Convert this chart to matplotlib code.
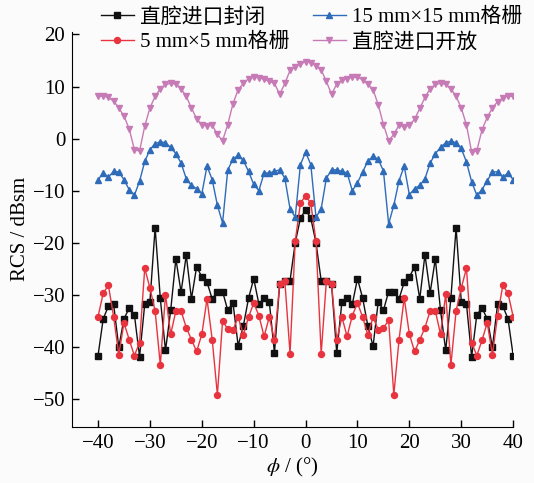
import numpy as np
import matplotlib
matplotlib.use('Agg')
import matplotlib.pyplot as plt

plt.rcParams['font.family'] = ['Liberation Serif', 'Noto Sans CJK SC']
plt.rcParams['mathtext.fontset'] = 'stix'
plt.rcParams['font.size'] = 15

# scan angle, degrees
phi = np.arange(-40, 41)

# RCS (dBsm) for each inlet configuration
closed = [-41.7, -34.6, -32.2, -31.8, -40.1, -34.6, -32.6, -33.8, -41.9, -31.8,
          -31.3, -17.1, -30.7, -40.7, -33.0, -23.1, -29.5, -22.4, -30.8, -24.6,
          -26.6, -27.6, -30.8, -29.4, -29.4, -33.0, -31.5, -39.8, -36.0, -30.7,
          -26.9, -31.8, -30.7, -31.3, -41.2, -28.0, -27.3, -27.3, -20.0, -15.3,
          -13.7,
          -15.3, -20.0, -27.3, -27.3, -28.0, -41.2, -31.3, -30.7, -31.8, -26.9,
          -30.7, -36.0, -39.9, -31.3, -33.0, -29.4, -29.4, -30.8, -27.6, -26.6,
          -24.6, -30.8, -22.3, -29.6, -23.1, -33.0, -40.7, -30.6, -17.1, -31.3,
          -31.8, -41.9, -33.8, -32.6, -34.6, -40.1, -31.8, -32.2, -34.6, -41.7]

grid5 = [-34.2, -29.7, -28.2, -34.2, -41.5, -35.4, -38.6, -41.7, -39.2, -24.9,
         -28.7, -33.1, -43.5, -30.0, -37.6, -33.1, -33.1, -36.3, -38.6, -40.9,
         -37.6, -30.8, -38.6, -49.2, -35.0, -36.6, -36.8, -34.3, -37.7, -34.3,
         -31.6, -34.0, -38.0, -34.3, -38.7, -27.9, -27.4, -41.3, -19.7, -12.4,
         -11.0,
         -12.4, -19.7, -41.3, -27.4, -27.9, -38.7, -34.3, -38.0, -34.0, -31.6,
         -34.3, -37.7, -34.3, -36.7, -36.4, -34.9, -49.2, -38.7, -30.6, -37.6,
         -40.9, -38.7, -36.3, -33.1, -33.1, -37.6, -29.9, -43.5, -33.1, -28.7,
         -24.9, -39.2, -41.7, -38.7, -35.4, -41.5, -34.0, -28.2, -29.7, -34.2]

grid15 = [-7.9, -6.6, -7.4, -6.3, -6.4, -7.9, -9.8, -10.9, -8.2, -4.4,
          -2.1, -1.0, -0.6, -0.8, -1.7, -2.9, -4.7, -7.7, -9.0, -9.6,
          -10.6, -5.3, -7.9, -12.8, -16.2, -6.0, -4.0, -3.2, -4.2, -6.3,
          -8.8, -10.0, -6.6, -6.6, -6.3, -6.0, -7.6, -13.5, -15.1, -5.0,
          -2.6,
          -5.0, -15.1, -13.5, -7.6, -6.0, -6.0, -6.3, -6.6, -10.0, -8.5,
          -6.4, -4.3, -3.4, -4.0, -6.2, -16.4, -12.8, -8.1, -5.3, -10.8,
          -9.6, -9.0, -7.7, -4.7, -2.9, -1.7, -0.8, -0.5, -0.8, -1.9,
          -4.5, -8.3, -10.9, -9.8, -8.1, -6.4, -6.4, -7.4, -6.6, -7.9]

opened = [8.1, 8.2, 7.9, 7.2, 5.9, 4.3, 1.9, -2.1, -2.4, 2.4,
          5.9, 8.1, 9.6, 10.4, 10.6, 10.5, 9.6, 8.1, 5.9, 3.8,
          2.7, 2.4, 2.6, 0.8, -0.4, 2.7, 6.7, 9.4, 10.6, 11.5,
          11.8, 11.7, 11.4, 11.0, 10.6, 8.5, 10.6, 13.1, 13.8, 14.4,
          14.7,
          14.6, 14.0, 13.2, 11.0, 8.5, 10.5, 11.2, 11.5, 11.8, 11.8,
          11.3, 10.5, 9.4, 6.5, 2.7, -0.4, 0.8, 2.6, 2.2, 2.6,
          3.7, 5.8, 7.9, 9.6, 10.4, 10.6, 10.4, 9.6, 8.1, 5.9,
          2.6, -2.6, -2.3, 1.7, 4.1, 5.9, 7.1, 7.8, 8.2, 8.1]

labels = ['直腔进口封闭', '5 mm×5 mm格栅', '15 mm×15 mm格栅', '直腔进口开放']

fig = plt.figure(figsize=(5.34, 4.83), dpi=100, facecolor='#fbfbfb')
ax = fig.add_axes([0.135, 0.116, 0.826, 0.818], facecolor='#fbfbfb')

ms = 4.3
ax.plot(phi, closed, '-s', color='#111111', lw=1.0, ms=ms, label=labels[0])
ax.plot(phi, grid5, '-o', color='#e8343f', lw=1.0, ms=ms, label=labels[1])
ax.plot(phi, grid15, '-^', color='#2e6bb8', lw=1.0, ms=ms, label=labels[2])
ax.plot(phi, opened, '-v', color='#c77bb6', lw=1.0, ms=ms, label=labels[3])

ax.set_xlim(-45, 40)
ax.set_ylim(-55.4, 20.5)
ax.set_xticks(np.arange(-40, 41, 10))
ax.set_yticks(np.arange(-50, 21, 10))
ax.spines['top'].set_visible(False)
ax.spines['right'].set_visible(False)
ax.tick_params(direction='in', length=5, width=1, pad=5)

ax.set_xlabel(r'$\phi$ / (°)', labelpad=2)
ax.set_ylabel('RCS / dBsm', labelpad=2)

fig.legend(loc='upper left', bbox_to_anchor=(0.165, 1.01), ncol=2,
           frameon=False, handlelength=1.6, handletextpad=0.3,
           columnspacing=1.1, labelspacing=0.25, borderaxespad=0.2)

fig.savefig('out.png', dpi=100, facecolor=fig.get_facecolor())
